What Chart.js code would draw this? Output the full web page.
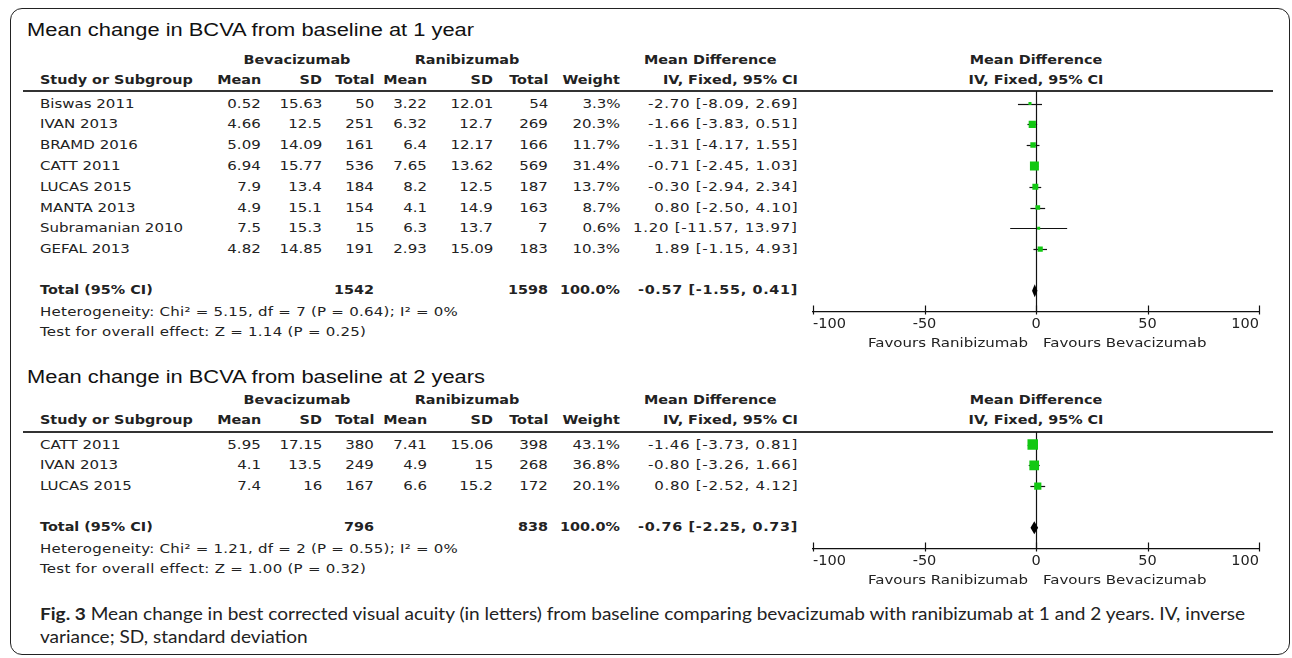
<!DOCTYPE html>
<html>
<head>
<meta charset="utf-8">
<title>Mean change in BCVA: bevacizumab vs ranibizumab</title>
<script src="https://cdn.jsdelivr.net/npm/chart.js@4.4.1/dist/chart.umd.min.js"></script>
<style>
  html, body { margin: 0; padding: 0; background: #fff; }
  #page { position: relative; width: 1292px; height: 658px; overflow: hidden; background: #fff; }
  .t { position: absolute; white-space: nowrap; line-height: 1; color: #222;
       font-family: 'DejaVu Sans', sans-serif; font-size: 12px; }
  .b { font-weight: bold; font-size: 11.5px; }
  .ci { letter-spacing: 0.55px; }
  .st { letter-spacing: 0.2px; }
  .ttl { font-family: 'Liberation Sans', Arial, sans-serif; font-size: 17.5px; color: #111; }
  .cap { font-family: Lato, 'Open Sans', sans-serif; font-size: 17px; color: #222; }
  .frame { position: absolute; left: 10px; top: 8px; width: 1280px; height: 647px;
           border: 1.5px solid #222; border-radius: 12px; box-sizing: border-box; }
  .rule { position: absolute; height: 1.6px; background: #333; }
  canvas { position: absolute; }
</style>
</head>
<body>
<div id="page"><div class="frame"></div></div>
<script>
// ---------- 1 year ----------
const studies1 = ['Biswas 2011', 'IVAN 2013', 'BRAMD 2016', 'CATT 2011', 'LUCAS 2015', 'MANTA 2013', 'Subramanian 2010', 'GEFAL 2013'];
const bevMean1 = [0.52, 4.66, 5.09, 6.94, 7.9, 4.9, 7.5, 4.82];
const bevSD1   = [15.63, 12.5, 14.09, 15.77, 13.4, 15.1, 15.3, 14.85];
const bevN1    = [50, 251, 161, 536, 184, 154, 15, 191];
const ranMean1 = [3.22, 6.32, 6.4, 7.65, 8.2, 4.1, 6.3, 2.93];
const ranSD1   = [12.01, 12.7, 12.17, 13.62, 12.5, 14.9, 13.7, 15.09];
const ranN1    = [54, 269, 166, 569, 187, 163, 7, 183];
const weight1  = [3.3, 20.3, 11.7, 31.4, 13.7, 8.7, 0.6, 10.3];
const md1      = [-2.70, -1.66, -1.31, -0.71, -0.30, 0.80, 1.20, 1.89];
const lo1      = [-8.09, -3.83, -4.17, -2.45, -2.94, -2.50, -11.57, -1.15];
const hi1      = [2.69, 0.51, 1.55, 1.03, 2.34, 4.10, 13.97, 4.93];
const total1   = [-0.57, -1.55, 0.41];          // pooled MD, lower, upper
const totalN1  = [1542, 1598];
const het1  = 'Heterogeneity: Chi² = 5.15, df = 7 (P = 0.64); I² = 0%';
const test1 = 'Test for overall effect: Z = 1.14 (P = 0.25)';

// ---------- 2 years ----------
const studies2 = ['CATT 2011', 'IVAN 2013', 'LUCAS 2015'];
const bevMean2 = [5.95, 4.1, 7.4];
const bevSD2   = [17.15, 13.5, 16];
const bevN2    = [380, 249, 167];
const ranMean2 = [7.41, 4.9, 6.6];
const ranSD2   = [15.06, 15, 15.2];
const ranN2    = [398, 268, 172];
const weight2  = [43.1, 36.8, 20.1];
const md2      = [-1.46, -0.80, 0.80];
const lo2      = [-3.73, -3.26, -2.52];
const hi2      = [0.81, 1.66, 4.12];
const total2   = [-0.76, -2.25, 0.73];
const totalN2  = [796, 838];
const het2  = 'Heterogeneity: Chi² = 1.21, df = 2 (P = 0.55); I² = 0%';
const test2 = 'Test for overall effect: Z = 1.00 (P = 0.32)';

// shared axis
const xTicks = [-100, -50, 0, 50, 100];
const xLabelLeft = 'Favours Ranibizumab';
const xLabelRight = 'Favours Bevacizumab';

// ---------- layout ----------
const W = 1292;
const STRETCH = 1.25;
const ROW = 20.8;
const TEXT_X = 40;
const COL = { bevMean: 261, bevSD: 322, bevN: 374, ranMean: 427, ranSD: 493, ranN: 548, weight: 620, ci: 798 };
const PLOT = { canvasLeft: 780, canvasWidth: 512, padX: 33, zeroX: 1036 };
const GREEN = '#12c812';
const INK = '#111';

const page = document.getElementById('page');

function put(text, x, y, cls, align, k) {
  const d = document.createElement('div');
  d.className = 't ' + (cls || '');
  d.textContent = text;
  d.style.top = y + 'px';
  const s = k || STRETCH;
  if (align === 'right') {
    d.style.right = (W - x) + 'px';
    d.style.transformOrigin = 'right center';
    d.style.transform = 'translateY(-50%) scaleX(' + s + ')';
  } else if (align === 'center') {
    d.style.left = x + 'px';
    d.style.transformOrigin = 'center center';
    d.style.transform = 'translate(-50%,-50%) scaleX(' + s + ')';
  } else {
    d.style.left = x + 'px';
    d.style.transformOrigin = 'left center';
    d.style.transform = 'translateY(-50%) scaleX(' + s + ')';
  }
  page.appendChild(d);
  return d;
}

function rule(x1, x2, y) {
  const r = document.createElement('div');
  r.className = 'rule';
  r.style.left = x1 + 'px';
  r.style.width = (x2 - x1) + 'px';
  r.style.top = (y - 0.8) + 'px';
  page.appendChild(r);
}

const ci = (m, l, h) => m.toFixed(2) + ' [' + l.toFixed(2) + ', ' + h.toFixed(2) + ']';

// forest-plot drawing on top of the Chart.js scales
function forestPlugin(lo, hi, total, totalRow) {
  return {
    id: 'forest',
    beforeDatasetsDraw(chart) {
      const { ctx, chartArea, scales: { x, y } } = chart;
      ctx.save();
      ctx.strokeStyle = INK;
      ctx.lineWidth = 1.2;
      // line of no effect
      const x0 = Math.round(x.getPixelForValue(0)) + 0.5;
      ctx.beginPath();
      ctx.moveTo(x0, chartArea.top);
      ctx.lineTo(x0, chartArea.bottom);
      ctx.stroke();
      // confidence intervals
      lo.forEach((l, i) => {
        const yy = Math.round(y.getPixelForValue(i)) + 0.5;
        ctx.beginPath();
        ctx.moveTo(x.getPixelForValue(l), yy);
        ctx.lineTo(x.getPixelForValue(hi[i]), yy);
        ctx.stroke();
      });
      // pooled estimate diamond
      const ty = y.getPixelForValue(totalRow);
      ctx.fillStyle = '#000';
      ctx.beginPath();
      ctx.moveTo(x.getPixelForValue(total[1]) - 0.5, ty);
      ctx.lineTo(x.getPixelForValue(total[0]), ty - 6.5);
      ctx.lineTo(x.getPixelForValue(total[2]) + 0.5, ty);
      ctx.lineTo(x.getPixelForValue(total[0]), ty + 6.5);
      ctx.closePath();
      ctx.fill();
      ctx.restore();
    },
    afterDraw(chart) {
      // tick marks crossing the axis line
      const { ctx, chartArea, scales: { x } } = chart;
      ctx.save();
      ctx.strokeStyle = INK;
      ctx.lineWidth = 1.2;
      x.ticks.forEach(t => {
        const px = Math.round(x.getPixelForValue(t.value)) + 0.5;
        ctx.beginPath();
        ctx.moveTo(px, chartArea.bottom - 6);
        ctx.lineTo(px, chartArea.bottom + 3);
        ctx.stroke();
      });
      ctx.restore();
    }
  };
}

function panel(p) {
  const n = p.studies.length;
  const rowY = i => p.lineY + 12.5 + i * ROW;

  put(p.title, 27, p.titleY, 'ttl', 'left');

  // group headers
  put('Bevacizumab', 297, p.groupY, 'b', 'center');
  put('Ranibizumab', 467, p.groupY, 'b', 'center');
  put('Mean Difference', 644, p.groupY, 'b', 'left');
  put('Mean Difference', PLOT.zeroX, p.groupY, 'b', 'center');

  // column headers
  put('Study or Subgroup', TEXT_X, p.headY, 'b', 'left');
  put('Mean', COL.bevMean, p.headY, 'b', 'right');
  put('SD', COL.bevSD, p.headY, 'b', 'right');
  put('Total', COL.bevN, p.headY, 'b', 'right');
  put('Mean', COL.ranMean, p.headY, 'b', 'right');
  put('SD', COL.ranSD, p.headY, 'b', 'right');
  put('Total', COL.ranN, p.headY, 'b', 'right');
  put('Weight', COL.weight, p.headY, 'b', 'right');
  put('IV, Fixed, 95% CI', COL.ci, p.headY, 'b', 'right');
  put('IV, Fixed, 95% CI', PLOT.zeroX, p.headY, 'b', 'center');

  rule(23, 1273, p.lineY);

  // study rows
  p.studies.forEach((s, i) => {
    const y = rowY(i);
    put(s, TEXT_X, y, '', 'left');
    put(String(p.bevMean[i]), COL.bevMean, y, '', 'right');
    put(String(p.bevSD[i]), COL.bevSD, y, '', 'right');
    put(String(p.bevN[i]), COL.bevN, y, '', 'right');
    put(String(p.ranMean[i]), COL.ranMean, y, '', 'right');
    put(String(p.ranSD[i]), COL.ranSD, y, '', 'right');
    put(String(p.ranN[i]), COL.ranN, y, '', 'right');
    put(p.weight[i].toFixed(1) + '%', COL.weight, y, '', 'right');
    put(ci(p.md[i], p.lo[i], p.hi[i]), COL.ci, y, 'ci', 'right');
  });

  // pooled row and statistics
  const totalRow = n + 1;
  const ty = rowY(totalRow);
  put('Total (95% CI)', TEXT_X, ty, 'b', 'left');
  put(String(p.totalN[0]), COL.bevN, ty, 'b', 'right');
  put(String(p.totalN[1]), COL.ranN, ty, 'b', 'right');
  put(p.weight.reduce((a, b) => a + b, 0).toFixed(1) + '%', COL.weight, ty, 'b', 'right');
  put(ci(p.total[0], p.total[1], p.total[2]), COL.ci, ty, 'b ci', 'right');
  put(p.het, TEXT_X, rowY(n + 2), 'st', 'left');
  put(p.test, TEXT_X, rowY(n + 3), 'st', 'left');

  // forest plot
  const yMin = -12.5 / ROW;
  const yMax = n + 2;                 // axis sits one row below the pooled estimate
  const areaH = (yMax - yMin) * ROW;
  const padTop = 10;
  const tickFont = 14.5;
  const tickPad = 4;
  const scaleH = tickFont * 1.2 + tickPad * 2;
  const canvasH = Math.ceil(padTop + areaH + scaleH + 20);
  const padBottom = canvasH - padTop - areaH - scaleH;

  const cv = document.createElement('canvas');
  cv.width = PLOT.canvasWidth;
  cv.height = canvasH;
  cv.style.left = PLOT.canvasLeft + 'px';
  cv.style.top = (p.lineY - padTop) + 'px';
  cv.style.width = PLOT.canvasWidth + 'px';
  cv.style.height = canvasH + 'px';
  page.appendChild(cv);

  new Chart(cv.getContext('2d'), {
    type: 'scatter',
    data: {
      datasets: [{
        data: p.md.map((v, i) => ({ x: v, y: i })),
        pointStyle: 'rect',
        pointRadius: p.weight.map(w => Math.max(3, 1.6 * Math.sqrt(w)) / Math.SQRT2),
        backgroundColor: GREEN,
        borderWidth: 0
      }]
    },
    options: {
      responsive: false,
      animation: false,
      events: [],
      layout: { padding: { left: PLOT.padX, right: PLOT.padX, top: padTop, bottom: padBottom } },
      plugins: { legend: { display: false }, tooltip: { enabled: false } },
      scales: {
        x: {
          type: 'linear',
          min: xTicks[0],
          max: xTicks[xTicks.length - 1],
          afterBuildTicks: scale => { scale.ticks = xTicks.map(v => ({ value: v })); },
          ticks: { color: '#222', padding: tickPad, align: 'inner',
                   font: { family: 'DejaVu Sans', size: tickFont, lineHeight: 1.2 } },
          grid: { display: false, drawTicks: false },
          border: { display: true, color: INK, width: 1.2 }
        },
        y: { type: 'linear', min: yMin, max: yMax, reverse: true, display: false }
      }
    },
    plugins: [forestPlugin(p.lo, p.hi, p.total, totalRow)]
  });

  // direction labels under the axis
  const axisY = rowY(yMax);
  put(xLabelLeft, PLOT.zeroX - 8, axisY + 31, '', 'right');
  put(xLabelRight, PLOT.zeroX + 7, axisY + 31, '', 'left');
}

panel({
  title: 'Mean change in BCVA from baseline at 1 year',
  titleY: 31, groupY: 61, headY: 81, lineY: 91,
  studies: studies1, bevMean: bevMean1, bevSD: bevSD1, bevN: bevN1,
  ranMean: ranMean1, ranSD: ranSD1, ranN: ranN1, weight: weight1,
  md: md1, lo: lo1, hi: hi1, total: total1, totalN: totalN1, het: het1, test: test1
});

panel({
  title: 'Mean change in BCVA from baseline at 2 years',
  titleY: 378, groupY: 401, headY: 421, lineY: 432,
  studies: studies2, bevMean: bevMean2, bevSD: bevSD2, bevN: bevN2,
  ranMean: ranMean2, ranSD: ranSD2, ranN: ranN2, weight: weight2,
  md: md2, lo: lo2, hi: hi2, total: total2, totalN: totalN2, het: het2, test: test2
});

// figure caption, fitted to the text block width
const cap1 = document.createElement('div');
cap1.className = 't cap';
cap1.innerHTML = '<b>Fig. 3</b> Mean change in best corrected visual acuity (in letters) from baseline comparing bevacizumab with ranibizumab at 1 and 2 years. IV, inverse';
cap1.style.left = TEXT_X + 'px';
cap1.style.top = '613px';
page.appendChild(cap1);
const capScale = (1245 - TEXT_X) / cap1.offsetWidth;
cap1.style.transformOrigin = 'left center';
cap1.style.transform = 'translateY(-50%) scaleX(' + capScale + ')';

const cap2 = document.createElement('div');
cap2.className = 't cap';
cap2.textContent = 'variance; SD, standard deviation';
cap2.style.left = TEXT_X + 'px';
cap2.style.top = '636px';
cap2.style.transformOrigin = 'left center';
cap2.style.transform = 'translateY(-50%) scaleX(' + capScale + ')';
page.appendChild(cap2);
</script>
</body>
</html>
